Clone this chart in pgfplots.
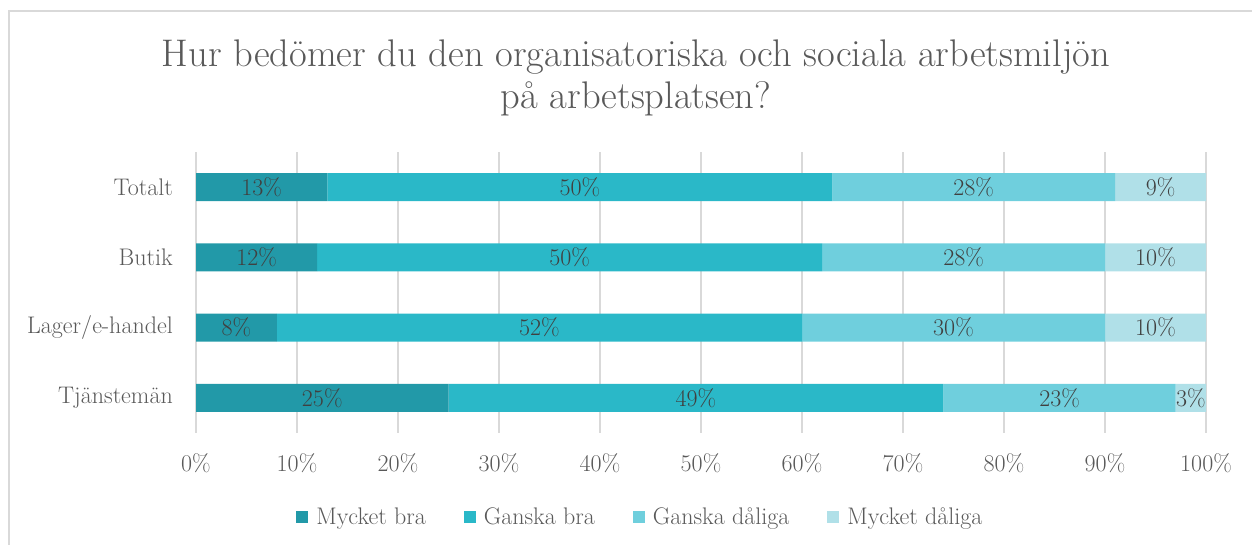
\documentclass[border=0pt]{standalone}
\usepackage{pgfplots}
\pgfplotsset{compat=1.18}

\definecolor{c1}{HTML}{2299A8}
\definecolor{c2}{HTML}{2AB8C8}
\definecolor{c3}{HTML}{6FCFDD}
\definecolor{c4}{HTML}{B0E0E8}
\definecolor{txt}{HTML}{595959}
\definecolor{lbl}{HTML}{404040}
\definecolor{gridc}{HTML}{D9D9D9}

\pgfplotsset{
  frame/.style={
    at={(196pt,112pt)}, anchor=south west,
    scale only axis,
    width=1010pt, height=281pt,
    xmin=0, xmax=100,
    ymin=-0.5, ymax=3.5,
  },
}

\begin{document}
\begin{tikzpicture}[x=1pt,y=1pt]

\begin{axis}[
  frame,
  xbar stacked,
  bar width=28pt,
  xtick={0,10,...,100},
  xticklabel={\pgfmathprintnumber{\tick}\%},
  ytick={0,1,2,3},
  yticklabels={Tjänstemän, Lager/e-handel, Butik, Totalt},
  xmajorgrids,
  major grid style={gridc, line width=1.5pt},
  axis line style={draw=none},
  major tick length=0pt,
  tick style={draw=none},
  /pgf/number format/assume math mode=true,
  ticklabel style={txt, font=\fontsize{24}{28}\selectfont, inner sep=0pt},
  xticklabel style={yshift=-20pt},
  yticklabel style={xshift=-23pt},
  legend columns=4,
  legend style={
    at={(axis description cs:0.44,0)}, anchor=center, yshift=-84pt,
    draw=none, fill=none,
    font=\fontsize{24}{28}\selectfont, text=txt,
    /tikz/every odd column/.append style={column sep=6pt},
    /tikz/every even column/.append style={column sep=36pt},
  },
  legend image code/.code={\fill[#1] (0pt,-6pt) rectangle (12pt,6pt);},
]
\addplot[fill=c1, draw=none] coordinates {(13,3) (12,2) (8,1) (25,0)};
\addlegendentry{Mycket bra}
\addplot[fill=c2, draw=none] coordinates {(50,3) (50,2) (52,1) (49,0)};
\addlegendentry{Ganska bra}
\addplot[fill=c3, draw=none] coordinates {(28,3) (28,2) (30,1) (23,0)};
\addlegendentry{Ganska dåliga}
\addplot[fill=c4, draw=none] coordinates {(9,3) (10,2) (10,1) (3,0)};
\addlegendentry{Mycket dåliga}
\end{axis}

% segment labels, centred in each segment
\begin{axis}[
  frame,
  hide axis,
  point meta=explicit symbolic,
  nodes near coords,
  nodes near coords align={center},
  nodes near coords style={lbl, font=\fontsize{24}{28}\selectfont,
    anchor=center, inner sep=0pt},
]
\addplot[draw=none, mark=none] coordinates {
  (6.5,3) [13\%] (38,3) [50\%] (77,3) [28\%] (95.5,3) [9\%]
  (6,2) [12\%] (37,2) [50\%] (76,2) [28\%] (95,2) [10\%]
  (4,1) [8\%] (34,1) [52\%] (75,1) [30\%] (95,1) [10\%]
  (12.5,0) [25\%] (49.5,0) [49\%] (85.5,0) [23\%] (98.5,0) [3\%]
};
\end{axis}

\node[anchor=base, txt, font=\fontsize{38.5}{46}\selectfont] at (636,478)
  {Hur bedömer du den organisatoriska och sociala arbetsmiljön};
\node[anchor=base, txt, font=\fontsize{38.5}{46}\selectfont] at (636,436)
  {på arbetsplatsen?};

\draw[gridc, line width=1.5pt] (9,0) -- (9,534) -- (1252,534);

\pgfresetboundingbox
\useasboundingbox (0,0) rectangle (1252,545);
\end{tikzpicture}
\end{document}
